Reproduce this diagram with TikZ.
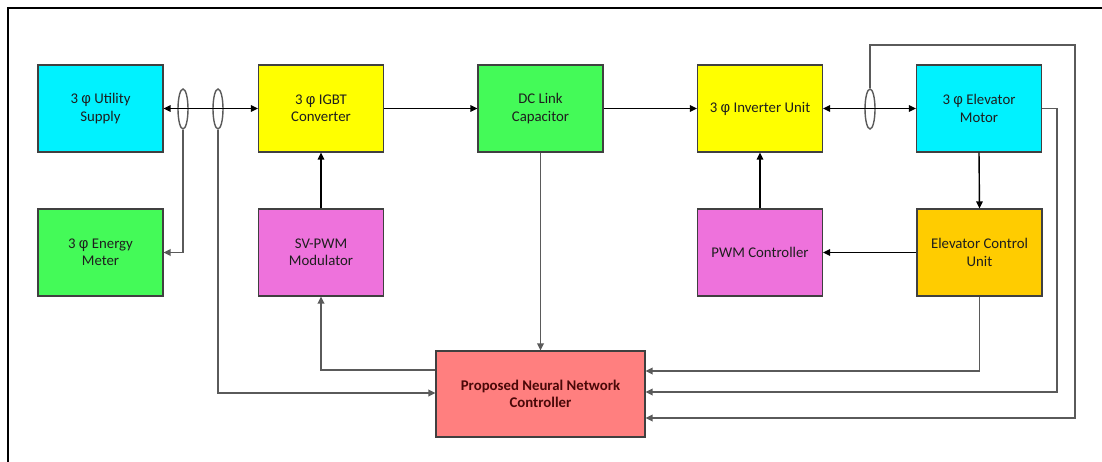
\documentclass[tikz,border=0pt]{standalone}
\usepackage{fontspec}
\setmainfont{Carlito}
\newfontfamily\phifont{Liberation Sans}
\newcommand{\phsym}{{\phifont φ}}
\usetikzlibrary{arrows.meta,shapes.geometric,calc}
\definecolor{ccyan}{HTML}{00F2FF}
\definecolor{cyel}{HTML}{FFFF00}
\definecolor{cgreen}{HTML}{44FA58}
\definecolor{cmag}{HTML}{EE72DC}
\definecolor{corange}{HTML}{FFCC00}
\definecolor{cred}{HTML}{FF7F7F}
\definecolor{cedge}{HTML}{404040}
\definecolor{csig}{HTML}{5A5A5A}
\definecolor{ctext}{HTML}{1E1E1E}
\definecolor{cnntext}{HTML}{4A0808}
\tikzset{
  blockbox/.style={draw=cedge, line width=1.1pt, minimum width=125pt, minimum height=87pt,
    inner sep=0pt, align=center, text=ctext,
    font=\fontsize{14.8}{17.5}\selectfont},
  mainline/.style={draw=black, line width=1.4pt},
  sigline/.style={draw=csig, line width=1.8pt},
  tip/.style={-{Triangle[length=7pt,width=6.5pt]}},
  twotip/.style={{Triangle[length=7pt,width=6.5pt]}-{Triangle[length=7pt,width=6.5pt]}},
  ovalct/.style={ellipse, draw=csig, line width=1.4pt, minimum width=10pt, minimum height=40pt, inner sep=0pt}
}
\begin{document}
\begin{tikzpicture}[x=1pt,y=-1pt]
\useasboundingbox (0,0) rectangle (1102,462);
\fill[white] (0,0) rectangle (1102,462);
% frame
\draw[black, line width=2pt] (8,462) -- (8,8) -- (1102,8);
% blocks
\node[blockbox, fill=ccyan] (util) at (100.5,108.5) {3 \phsym{} Utility\\Supply};
\node[blockbox, fill=cyel] (igbt) at (321,108.5) {3 \phsym{} IGBT\\Converter};
\node[blockbox, fill=cgreen] (dc) at (540.5,108.5) {DC Link\\Capacitor};
\node[blockbox, fill=cyel] (inv) at (760,108.5) {3 \phsym{} Inverter Unit};
\node[blockbox, fill=ccyan] (motor) at (979,108.5) {3 \phsym{} Elevator\\Motor};
\node[blockbox, fill=cgreen] (meter) at (100.5,252.5) {3 \phsym{} Energy\\Meter};
\node[blockbox, fill=cmag] (svpwm) at (321,252.5) {SV-PWM\\Modulator};
\node[blockbox, fill=cmag] (pwmc) at (760,252.5) {PWM Controller};
\node[blockbox, fill=corange] (ecu) at (979.5,252.5) {Elevator Control\\Unit};
\node[blockbox, fill=cred, minimum width=209pt, minimum height=86pt, text=cnntext,
  font=\fontsize{14.8}{17.5}\selectfont\bfseries] (nn) at (540.5,394) {Proposed Neural Network\\Controller};
% current sensors
\node[ovalct] (o1) at (183,109) {};
\node[ovalct] (o2) at (218,109) {};
\node[ovalct] (o3) at (870,109) {};
% main power flow
\draw[mainline, twotip] (util.east) -- (igbt.west);
\draw[mainline, tip] (igbt.east) -- (dc.west);
\draw[mainline, tip] (dc.east) -- (inv.west);
\draw[mainline, twotip] (inv.east) -- (motor.west);
\draw[mainline, tip] (svpwm.north) -- (igbt.south);
\draw[mainline, tip] (pwmc.north) -- (inv.south);
\draw[mainline, tip] (motor.south) -- (ecu.north);
\draw[mainline, tip] (ecu.west) -- (pwmc.east);
\draw[sigline, tip] (dc.south) -- (nn.north);
% measurement / feedback lines
\draw[sigline, tip] (o1.south) |- (meter.east);
\draw[sigline, tip] (o2.south) |- (nn.west |- 0,393);
\draw[sigline, tip] (nn.west |- 0,370) -| (svpwm.south);
\draw[sigline, tip] (ecu.south) |- (nn.east |- 0,371);
\draw[sigline, tip] (motor.east) -- (1057,108.5) |- (nn.east |- 0,392);
\draw[sigline, tip] (o3.north) |- (1075,45) |- (nn.east |- 0,418);
\end{tikzpicture}
\end{document}
